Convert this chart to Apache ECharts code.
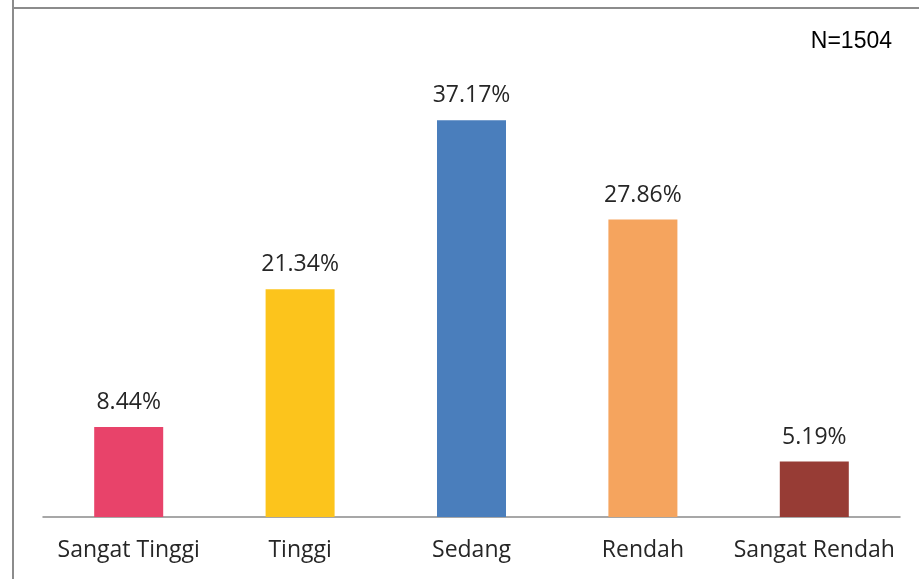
<!DOCTYPE html>
<html><head><meta charset="utf-8">
<script src="https://cdn.jsdelivr.net/npm/echarts@6/dist/echarts.min.js"></script>
<style>html,body{margin:0;padding:0;background:#fff}#c{width:919px;height:579px}</style>
</head><body><div id="c"></div>
<script>
const categories = ['Sangat Tinggi', 'Tinggi', 'Sedang', 'Rendah', 'Sangat Rendah'];
const values = [8.44, 21.34, 37.17, 27.86, 5.19];
const barColors = ['#E8436A', '#FCC41C', '#4A7EBC', '#F5A45E', '#973C35'];
const noteText = 'N=1504';

const chart = echarts.init(document.getElementById('c'));
chart.setOption({
  animation: false,
  backgroundColor: '#fff',
  grid: { left: 43, right: 19, top: 90, bottom: 62 },
  xAxis: {
    type: 'category', data: categories,
    axisLine: { lineStyle: { color: '#8a8a8a', width: 1.5 } },
    axisTick: { show: false },
    axisLabel: { interval: 0, color: '#262626', fontSize: 23, fontFamily: 'Open Sans', margin: 22 }
  },
  yAxis: { type: 'value', min: 0, max: 40, show: false, splitLine: { show: false } },
  graphic: [
    { type: 'line', shape: { x1: 13, y1: 0, x2: 13, y2: 579 }, style: { stroke: '#8c8c8c', lineWidth: 2 } },
    { type: 'line', shape: { x1: 12, y1: 8, x2: 919, y2: 8 }, style: { stroke: '#8c8c8c', lineWidth: 2 } },
    { type: 'text', right: 27, top: 30, style: { text: noteText, fontSize: 23, fontFamily: 'Liberation Sans', fill: '#000' } }
  ],
  series: [{
    type: 'bar', barWidth: 69,
    data: values.map((v, i) => ({ value: v, itemStyle: { color: barColors[i] } })),
    label: { show: true, position: 'top', distance: 13, formatter: p => p.value.toFixed(2) + '%', color: '#262626', fontSize: 23, fontFamily: 'Open Sans' }
  }]
});
</script></body></html>
